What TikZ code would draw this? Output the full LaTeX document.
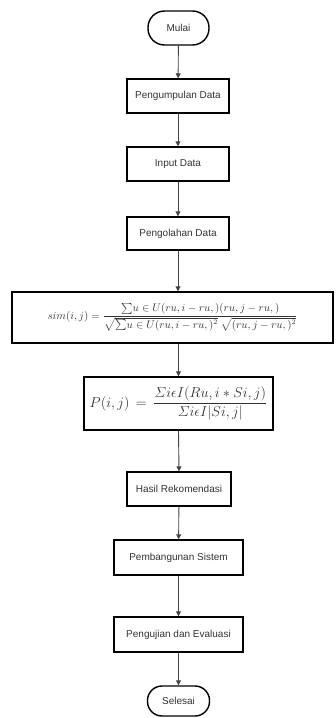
\documentclass[tikz,border=0pt]{standalone}
\usepackage{fontspec}
\setmainfont{Liberation Sans}
\usepackage{amsmath}
\usetikzlibrary{arrows.meta}
\definecolor{txt}{HTML}{333333}
\definecolor{ln}{HTML}{444444}
\tikzset{
  box/.style={draw=black, line width=1.4pt, fill=white, text=txt, inner sep=0pt, font=\fontsize{10}{12}\selectfont},
  term/.style={box, rounded corners=#1},
  conn/.style={draw=ln, line width=0.9pt, -{Triangle[length=5pt,width=5pt]}}
}
\begin{document}
\begin{tikzpicture}[x=1pt,y=-1pt]
\useasboundingbox (0,0) rectangle (335,718);
\node[term=16.5pt, minimum width=61pt, minimum height=34pt] (mulai) at (178.5,28) {Mulai};
\node[box, minimum width=102pt, minimum height=34pt] (kumpul) at (178,96) {Pengumpulan Data};
\node[box, minimum width=102pt, minimum height=34pt] (input) at (178,164) {Input Data};
\node[box, minimum width=102pt, minimum height=33pt] (olah) at (178,233.5) {Pengolahan Data};
\node[box, minimum width=321pt, minimum height=51pt, font=\fontsize{10.6}{12}\selectfont] (sim) at (172.5,317.5)
  {$sim(i,j)=\dfrac{{\textstyle\sum} u\in U(ru,i-ru,)(ru,j-ru,)}{\sqrt{{\textstyle\sum} u\in U(ru,i-ru,)^2}\;\sqrt{(ru,j-ru,)^2}}$};
\node[box, minimum width=189pt, minimum height=53pt, font=\fontsize{15.5}{18}\selectfont] (pred) at (178.5,403.5)
  {$P(i,j)\,=\,\dfrac{\varSigma i\epsilon I(Ru,i\ast Si,j)}{\varSigma i\epsilon I|Si,j|}$};
\node[box, minimum width=104pt, minimum height=34pt] (hasil) at (179,489) {Hasil Rekomendasi};
\node[box, minimum width=129pt, minimum height=35pt] (bangun) at (178.5,557.5) {Pembangunan Sistem};
\node[box, minimum width=129pt, minimum height=35pt] (uji) at (178.5,634.5) {Pengujian dan Evaluasi};
\node[term=14.5pt, minimum width=62pt, minimum height=30pt] (selesai) at (178.5,701) {Selesai};
\draw[conn] (mulai) -- (kumpul);
\draw[conn] (kumpul) -- (input);
\draw[conn] (input) -- (olah);
\draw[conn] (olah.south) -- (olah.south |- sim.north);
\draw[conn] (pred.north |- sim.south) -- (pred.north);
\draw[conn] (pred.south) -- (hasil.north);
\draw[conn] (hasil) -- (bangun);
\draw[conn] (bangun) -- (uji);
\draw[conn] (uji) -- (selesai);
\end{tikzpicture}
\end{document}
